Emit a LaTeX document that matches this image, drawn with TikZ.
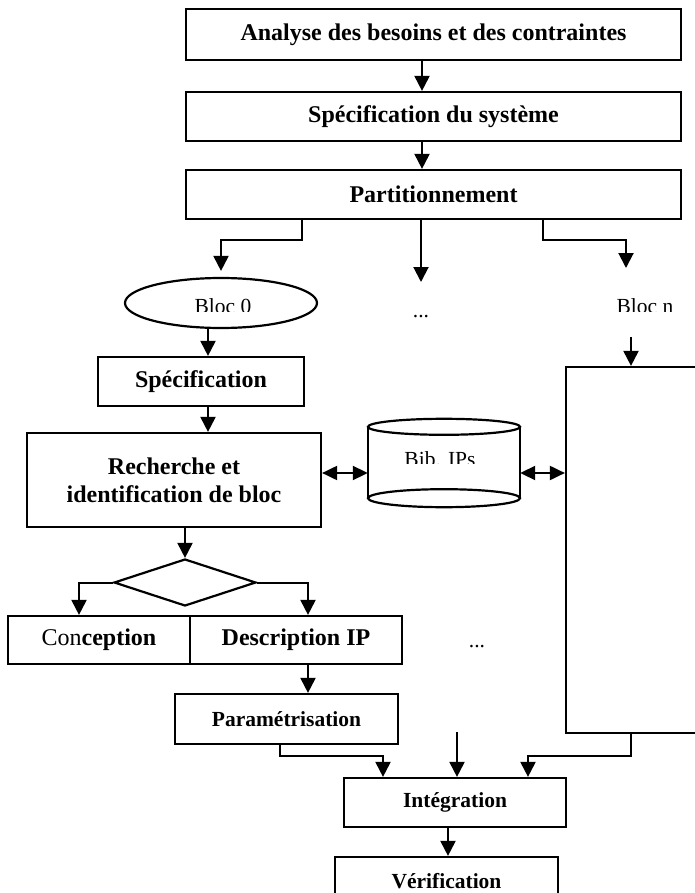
\documentclass[tikz,border=0pt]{standalone}
\usepackage{fontspec}
\setmainfont{Liberation Serif}
\usetikzlibrary{arrows.meta,shapes.geometric}
\newcommand{\grand}{\fontsize{24}{28}\selectfont}
\newcommand{\moyen}{\fontsize{21.5}{24}\selectfont}
\tikzset{
  etape/.style={draw, line width=2.2pt, inner sep=0pt, align=center, font=\grand\bfseries},
  petite/.style={etape, font=\moyen\bfseries},
  texte/.style={inner sep=0pt, font=\moyen},
  lien/.style={line width=2.2pt},
  fleche/.style={line width=2pt, -{Triangle[length=15pt,width=15pt]}},
  deuxsens/.style={line width=2pt, {Triangle[length=15pt,width=14pt]}-{Triangle[length=15pt,width=14pt]}}
}
\begin{document}
\begin{tikzpicture}[x=1pt, y=-1pt]
        \clip (0,0) rectangle (695,893);
        % etapes du haut
        \node[etape, minimum width=495pt, minimum height=51pt] (analyse)   at (433.5,34.5)  {Analyse des besoins et des contraintes};
        \node[etape, minimum width=495pt, minimum height=49pt] (systeme)   at (433.5,116.5) {Spécification du système};
        \node[etape, minimum width=495pt, minimum height=49pt] (partition) at (433.5,194.5) {Partitionnement};

        % blocs
        \node[draw, ellipse, lien, minimum width=192pt, minimum height=50pt, inner sep=0pt] (bloc0) at (221,303) {};
        \begin{scope}
            \clip (150,290) rectangle (300,311);
            \node[texte, anchor=base] (nom0) at (223,313) {Bloc 0};
        \end{scope}
        \node[texte, anchor=base] (pts1) at (421,317) {...};
        \begin{scope}
            \clip (600,290) rectangle (690,311);
            \node[texte, anchor=base] (nomn) at (645,313) {Bloc n};
        \end{scope}

        \node[etape, minimum width=206pt, minimum height=49pt] (spec)      at (201,381.5) {Spécification};
        \node[etape, minimum width=294pt, minimum height=94pt] (recherche) at (174,480)   {Recherche et\\identification de bloc};

        % bibliotheque
        \node[minimum width=152pt, minimum height=71pt, inner sep=0pt] (bib) at (444,462.5) {};
        \draw[lien] (bib.north) ellipse [x radius=76pt, y radius=8pt];
        \draw[lien] (bib.south) ellipse [x radius=76pt, y radius=9pt];
        \draw[lien] (bib.north west) -- (bib.south west) (bib.north east) -- (bib.south east);
        \begin{scope}
            \clip (380,440) rectangle (510,463);
            \node[texte, anchor=base] (nombib) at (440,466) {Bib. IPs};
        \end{scope}

        \node[draw, lien, minimum width=160pt, minimum height=366pt, inner sep=0pt] (chainen) at (646,550) {};

        % choix et suite
        \node[draw, diamond, lien, minimum width=142pt, minimum height=47pt, inner sep=0pt] (choix) at (185,582.5) {};
        \node[etape, minimum width=182pt, minimum height=48pt] (conception)  at (99,640)  {{\mdseries Con}ception};
        \node[etape, minimum width=212pt, minimum height=48pt] (description) at (296,640) {Description IP};
        \node[texte, anchor=base] (pts2) at (477,647) {...};
        \node[petite, minimum width=223pt, minimum height=50pt] (param)        at (286.5,719)   {Paramétrisation};
        \node[petite, minimum width=222pt, minimum height=49pt] (integration)  at (455,802.5)   {Intégration};
        \node[petite, minimum width=223pt, minimum height=48pt] (verification) at (446.5,881)   {Vérification};

        % fleches du haut
        \coordinate (axe) at (422,0);
        \draw[fleche] (analyse.south -| axe) -- (systeme.north -| axe);
        \draw[fleche] (systeme.south -| axe) -- (partition.north -| axe);

        % partition vers les blocs
        \coordinate (g1) at (302,240);
        \coordinate (d1) at (543,240);
        \coordinate (f1) at (421,282);
        \coordinate (fn) at (626,268);
        \draw[fleche, shorten >=6pt] (partition.south -| g1) -- (g1) -| (bloc0.north);
        \draw[fleche] (partition.south -| f1) -- (f1);
        \draw[fleche] (partition.south -| d1) -- (d1) -| (fn);

        % bloc 0
        \coordinate (axe0) at (208,0);
        \draw[fleche] (bloc0.south -| axe0) -- (spec.north -| axe0);
        \draw[fleche] (spec.south -| axe0) -- (recherche.north -| axe0);

        % echanges avec la bibliotheque
        \coordinate (lvl) at (0,473);
        \draw[deuxsens] (recherche.east |- lvl) -- (bib.west |- lvl);
        \draw[deuxsens] (bib.east |- lvl) -- (chainen.west |- lvl);

        % bloc n
        \coordinate (en) at (631,337);
        \draw[fleche] (en) -- (chainen.north -| en);

        % choix
        \coordinate (cg) at (79,0);
        \coordinate (cd) at (308,0);
        \draw[fleche] (recherche.south -| choix) -- (choix.north);
        \draw[fleche] (choix.west) -| (conception.north -| cg);
        \draw[fleche] (choix.east) -| (description.north -| cd);
        \draw[fleche] (description.south -| cd) -- (param.north -| cd);

        % vers integration
        \coordinate (p1) at (280,756);
        \coordinate (p2) at (383,756);
        \coordinate (mi) at (457,732);
        \coordinate (q1) at (631,756);
        \coordinate (q2) at (528,756);
        \draw[fleche] (param.south -| p1) -- (p1) -- (p2) -- (integration.north -| p2);
        \draw[fleche] (mi) -- (integration.north -| mi);
        \draw[fleche] (chainen.south -| q1) -- (q1) -- (q2) -- (integration.north -| q2);
        \coordinate (axev) at (448,0);
        \draw[fleche] (integration.south -| axev) -- (verification.north -| axev);
\end{tikzpicture}
\end{document}
